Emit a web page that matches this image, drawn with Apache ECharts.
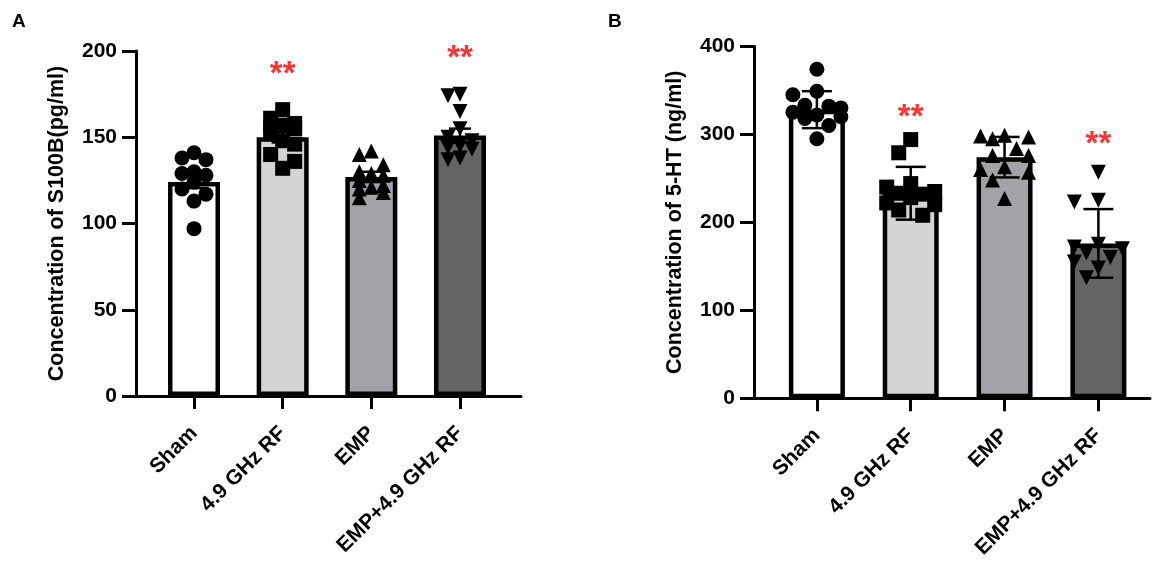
<!DOCTYPE html>
<html><head><meta charset="utf-8">
<script src="https://cdn.jsdelivr.net/npm/echarts@6/dist/echarts.min.js"></script>
<style>html,body{margin:0;padding:0;background:#fff}#c{width:1169px;height:564px}</style>
</head><body><div id="c"></div>
<script>
// ---------- data ----------
const categories = ['Sham', '4.9 GHz RF', 'EMP', 'EMP+4.9 GHz RF'];

// Panel A: S100B (pg/ml), mean ± SEM
const s100bMean = [124, 150, 127, 151];
const s100bErr = [3.5, 3, 3, 4];
const s100bSham = [141, 138, 137, 130, 129, 128, 124, 120, 117, 113, 97];
const s100bRF = [166, 161, 158, 157, 156, 155, 152, 148, 146, 140, 136, 132];
const s100bEMP = [142, 140, 134, 130, 129, 128, 125, 122, 121, 120, 118, 115];
const s100bCombo = [175, 174, 165, 155, 150, 148, 145, 144, 143, 138, 137];
const s100bSigAt = [null, 191, null, 200];
const s100bTicks = [0, 50, 100, 150, 200];

// Panel B: 5-HT (ng/ml), mean ± SD
const htMean = [328, 233, 274, 176];
const htErr = [21, 30, 23, 39];
const htSham = [374, 349, 345, 333, 332, 330, 325, 322, 320, 318, 310, 295];
const htRF = [294, 279, 244, 240, 235, 233, 232, 228, 222, 220, 214, 208];
const htEMP = [299, 298, 297, 295, 284, 276, 276, 263, 260, 257, 248, 227];
const htCombo = [257, 225, 223, 175, 172, 170, 165, 160, 155, 148, 137];
const htSigAt = [null, 328, null, 297];
const htTicks = [0, 100, 200, 300, 400];

const sigText = '**';

// ---------- styles / layout ----------
const FONT = "'Liberation Sans', Arial, Helvetica, sans-serif";
const barColors = ['#ffffff', '#d4d4d4', '#a3a3a7', '#646464'];
const symbols = ['circle', 'rect', 'triangle', 'triangle'];
const symbolRot = [0, 0, 0, 180];
const SYM = 15;

const panels = [
  { grid: { left: 136, top: 51, width: 385, height: 345 }, xMin: -0.654, xMax: 3.688,
    ticks: s100bTicks, mean: s100bMean, err: s100bErr,
    groups: [s100bSham, s100bRF, s100bEMP, s100bCombo], sig: s100bSigAt,
    name: 'Concentration of S100B(pg/ml)', barW: 52, cap: 22 },
  { grid: { left: 754, top: 46.3, width: 396, height: 352 }, xMin: -0.67, xMax: 3.55,
    ticks: htTicks, mean: htMean, err: htErr,
    groups: [htSham, htRF, htEMP, htCombo], sig: htSigAt,
    name: 'Concentration of 5-HT (ng/ml)', barW: 56, cap: 30 }
];

// simple column-based swarm layout so the markers do not overlap much
function swarm(values, idx, pxY, pxX, halfWidthPx) {
  const placed = [];
  const out = [];
  const step = SYM * 0.8;
  values.forEach(v => {
    const y = v * pxY;
    let best = null, bestOv = Infinity;
    const cands = [0];
    for (let k = 1; k * step <= halfWidthPx; k++) { cands.push(-k * step, k * step); }
    for (const c of cands) {
      let ov = 0;
      for (const p of placed) {
        const d = Math.hypot(p[0] - c, p[1] - y);
        if (d < SYM * 1.0) ov += (SYM * 1.0 - d);
      }
      if (ov === 0) { best = c; bestOv = 0; break; }
      if (ov < bestOv) { bestOv = ov; best = c; }
    }
    placed.push([best, y]);
    out.push([idx + best / pxX, v]);
  });
  return out;
}

const option = {
  animation: false,
  backgroundColor: '#fff',
  textStyle: { fontFamily: FONT },
  title: [
    { text: 'A', left: 7, top: 7, textStyle: { fontFamily: FONT, fontSize: 19, fontWeight: 'bold', color: '#000' } },
    { text: 'B', left: 603, top: 7, textStyle: { fontFamily: FONT, fontSize: 19, fontWeight: 'bold', color: '#000' } }
  ],
  grid: [], xAxis: [], yAxis: [], series: []
};

panels.forEach((P, pi) => {
  option.grid.push(Object.assign({ containLabel: false }, P.grid));
  const yMax = P.ticks[P.ticks.length - 1];
  const pxY = P.grid.height / yMax;
  const pxX = P.grid.width / (P.xMax - P.xMin);
  option.xAxis.push({
    type: 'value', gridIndex: pi, min: P.xMin, max: P.xMax,
    splitLine: { show: false },
    axisLine: { show: true, lineStyle: { color: '#000', width: 3 } },
    axisTick: { show: true, customValues: [0, 1, 2, 3], length: 13, lineStyle: { color: '#000', width: 3 } },
    axisLabel: { show: true, customValues: [0, 1, 2, 3], rotate: 45, margin: 34,
      formatter: v => categories[Math.round(v)] || '',
      fontFamily: FONT, fontSize: 21, fontWeight: 'bold', color: '#000' }
  });
  option.yAxis.push({
    type: 'value', gridIndex: pi, min: P.ticks[0], max: yMax, interval: P.ticks[1] - P.ticks[0],
    name: P.name, nameLocation: 'middle', nameGap: 68,
    nameTextStyle: { fontFamily: FONT, fontSize: 21.5, fontWeight: 'bold', color: '#000' },
    splitLine: { show: false },
    axisLine: { show: true, onZero: false, lineStyle: { color: '#000', width: 3 } },
    axisTick: { show: true, length: 14, lineStyle: { color: '#000', width: 3 } },
    axisLabel: { margin: 19, fontFamily: FONT, fontSize: 21, fontWeight: 'bold', color: '#000' }
  });
  // bars
  option.series.push({
    type: 'bar', xAxisIndex: pi, yAxisIndex: pi, barWidth: P.barW, z: 1,
    data: P.mean.map((m, i) => ({ value: [i, m], itemStyle: { color: barColors[i] } })),
    itemStyle: { borderColor: '#000', borderWidth: 4.5 }
  });
  // points
  P.groups.forEach((g, i) => {
    option.series.push({
      type: 'scatter', xAxisIndex: pi, yAxisIndex: pi, z: 3,
      symbol: symbols[i], symbolRotate: symbolRot[i], symbolSize: SYM,
      itemStyle: { color: '#000', opacity: 1 },
      data: swarm(g, i, pxY, pxX, P.barW * 0.45)
    });
  });
  // error bars
  option.series.push({
    type: 'custom', xAxisIndex: pi, yAxisIndex: pi, z: 4,
    data: P.mean.map((m, i) => [i, m - P.err[i], m + P.err[i]]),
    encode: { x: 0, y: [1, 2] },
    renderItem(params, api) {
      const x = api.value(0);
      const lo = api.coord([x, api.value(1)]);
      const hi = api.coord([x, api.value(2)]);
      const h = P.cap / 2;
      const st = { stroke: '#000', lineWidth: 2.5 };
      return { type: 'group', children: [
        { type: 'line', shape: { x1: lo[0], y1: lo[1], x2: hi[0], y2: hi[1] }, style: st },
        { type: 'line', shape: { x1: hi[0] - h, y1: hi[1], x2: hi[0] + h, y2: hi[1] }, style: st },
        { type: 'line', shape: { x1: lo[0] - h, y1: lo[1], x2: lo[0] + h, y2: lo[1] }, style: st }
      ] };
    }
  });
  // significance marks
  option.series.push({
    type: 'scatter', xAxisIndex: pi, yAxisIndex: pi, z: 6, symbolSize: 1,
    itemStyle: { color: 'rgba(0,0,0,0)' },
    data: P.sig.map((s, i) => s == null ? null : [i, s]).filter(d => d),
    label: { show: true, position: 'inside', formatter: sigText, offset: [0, 8],
      color: '#ff0000', fontFamily: FONT, fontSize: 33, fontWeight: 'bold' }
  });
});

const chart = echarts.init(document.getElementById('c'), null, { renderer: 'canvas' });
chart.setOption(option);
</script>
</body></html>
